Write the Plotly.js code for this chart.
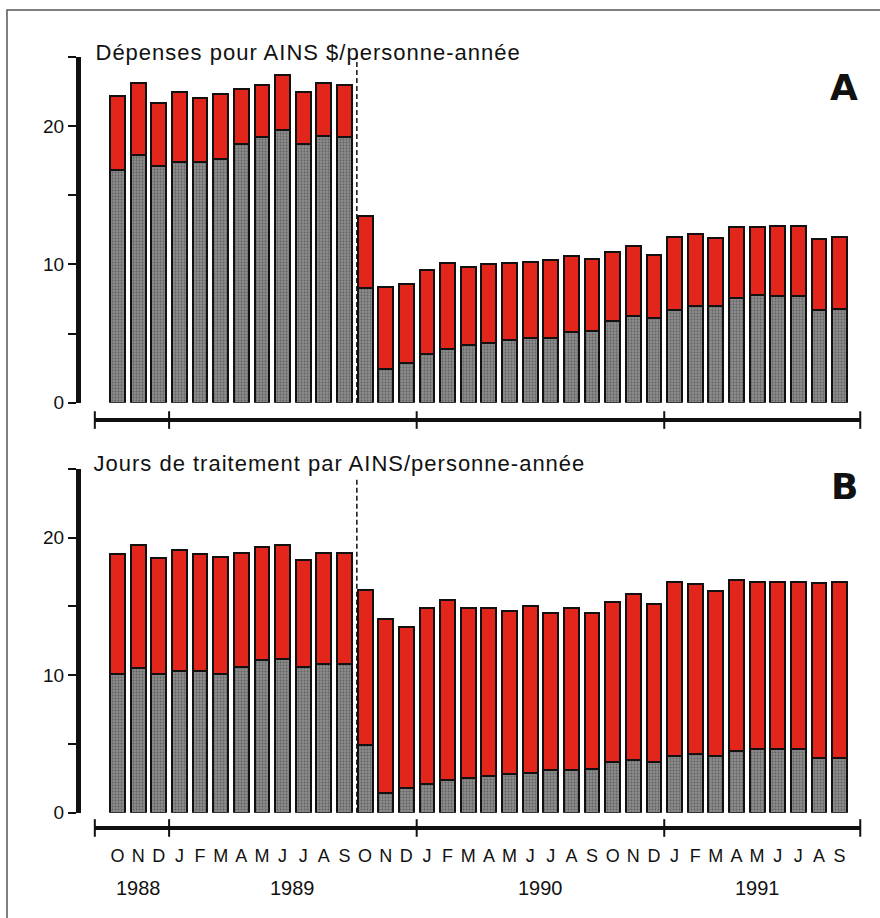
<!DOCTYPE html>
<html><head><meta charset="utf-8">
<script src="https://cdn.plot.ly/plotly-3.0.1.min.js"></script>
<style>
html,body{margin:0;padding:0;background:#fff}
#chart{width:880px;height:918px}
#chart g.annotation[data-index="0"] text, #chart g.annotation[data-index="1"] text{letter-spacing:1px}
</style>
</head><body><div id="chart"></div>
<script>
// Months Oct 1988 .. Sep 1991
const months = ['O','N','D','J','F','M','A','M','J','J','A','S',
                'O','N','D','J','F','M','A','M','J','J','A','S',
                'O','N','D','J','F','M','A','M','J','J','A','S'];
const years = ['1988','1989','1990','1991'];
const monthsPerYear = [3, 12, 12, 9];

// Panel A: Dépenses pour AINS $/personne-année (gray lower segment, red upper segment)
const costGray = [16.8,17.9,17.1,17.4,17.4,17.6,18.7,19.2,19.7,18.7,19.3,19.2,
                  8.3,2.4,2.9,3.5,3.9,4.2,4.3,4.5,4.7,4.7,5.1,5.2,
                  5.9,6.3,6.1,6.7,7.0,7.0,7.6,7.8,7.7,7.7,6.7,6.8];
const costRed  = [5.4,5.2,4.6,5.1,4.6,4.7,4.0,3.8,4.0,3.8,3.8,3.8,
                  5.2,6.0,5.7,6.1,6.2,5.6,5.7,5.6,5.5,5.6,5.5,5.2,
                  5.0,5.0,4.6,5.3,5.2,4.9,5.1,4.9,5.1,5.1,5.1,5.2];

// Panel B: Jours de traitement par AINS/personne-année
const daysGray = [10.1,10.5,10.1,10.3,10.3,10.1,10.6,11.1,11.2,10.6,10.8,10.8,
                  4.9,1.4,1.8,2.1,2.4,2.5,2.7,2.8,2.9,3.1,3.1,3.2,
                  3.7,3.8,3.7,4.1,4.3,4.1,4.5,4.6,4.6,4.6,4.0,4.0];
const daysRed  = [8.7,9.0,8.4,8.8,8.5,8.5,8.3,8.2,8.3,7.8,8.1,8.1,
                  11.3,12.7,11.7,12.8,13.1,12.4,12.2,11.9,12.1,11.4,11.8,11.3,
                  11.6,12.1,11.5,12.7,12.3,12.0,12.4,12.2,12.2,12.2,12.7,12.8];

const titleA = 'Dépenses pour AINS $/personne-année';
const titleB = 'Jours de traitement par AINS/personne-année';

const idx = months.map((m, i) => i);

const GRAY = '#7e7e7e', RED = '#e3261b', INK = '#111111';
const FONT = 'Liberation Sans, Arial, Helvetica, sans-serif';

function bars(y, xa, ya, color, textured) {
  const t = {
    type: 'bar', x: idx, y: y, xaxis: xa, yaxis: ya,
    marker: {color: color, line: {color: INK, width: 2}},
    hoverinfo: 'skip'
  };
  if (textured) {
    t.marker.pattern = {shape: '.', fgcolor: '#606060', bgcolor: '#8c8c8c', size: 3, solidity: 0.3};
  }
  return t;
}

const data = [
  bars(costGray, 'x', 'y', GRAY, true),
  bars(costRed, 'x', 'y', RED, false),
  bars(daysGray, 'x2', 'y2', GRAY, true),
  bars(daysRed, 'x2', 'y2', RED, false)
];

// layout geometry (paper: x 81..865, y 40..878)
const xRange = [-1.77, 36.23];
const domA = [0.5672, 0.9798], domB = [0.0779, 0.4881];
const axisStart = -1.1, axisEnd = 36.0;
const interventionX = 11.6;

function yAxis(dom, anchor) {
  return {domain: dom, range: [0, 25], anchor: anchor, showline: true, linewidth: 5, linecolor: INK,
    ticks: 'outside', ticklen: 8, tickwidth: 2, tickcolor: INK,
    tickvals: [0, 5, 10, 15, 20, 25], ticktext: ['0', '', '10', '', '20', ''],
    tickfont: {size: 19, color: INK, family: FONT},
    showgrid: false, zeroline: false, fixedrange: true};
}
function yInside(over, anchor) {
  return {overlaying: over, anchor: anchor, range: [0, 25], showline: false, ticks: 'inside', ticklen: 4,
    tickwidth: 2, tickcolor: INK, tickvals: [0, 5, 10, 15, 20, 25], showticklabels: false,
    showgrid: false, zeroline: false, fixedrange: true};
}

// year boundaries on the time axes
const starts = [];
let acc = 0;
monthsPerYear.forEach(n => { starts.push(acc); acc += n; });
const boundaries = [axisStart].concat(starts.slice(1).map(s => s - 0.5)).concat([axisEnd]);
const yearCenters = starts.map((s, k) => s + (monthsPerYear[k] - 1) / 2);

const shapes = [];
function timeAxis(xref, yPaper) {
  shapes.push({type: 'line', xref: xref, yref: 'paper', x0: axisStart, x1: axisEnd, y0: yPaper, y1: yPaper,
    line: {color: INK, width: 4}});
  boundaries.forEach(b => shapes.push({type: 'line', xref: xref, yref: 'paper', x0: b, x1: b,
    y0: yPaper - 0.0105, y1: yPaper + 0.0105, line: {color: INK, width: 2}}));
}
timeAxis('x', 0.5465);
timeAxis('x2', 0.0597);
shapes.push({type: 'line', xref: 'x', yref: 'paper', x0: interventionX, x1: interventionX, y0: 0.5668, y1: 0.9845,
  line: {color: INK, width: 1.5, dash: '5px,3px'}});
shapes.push({type: 'line', xref: 'x2', yref: 'paper', x0: interventionX, x1: interventionX, y0: 0.0779, y1: 0.4785,
  line: {color: INK, width: 1.5, dash: '5px,3px'}});
// frame
shapes.push({type: 'rect', xref: 'paper', yref: 'paper', x0: -0.0944, x1: 1.023, y0: -0.06, y1: 1.0358,
  line: {color: '#555', width: 1.5}});

const annotations = [
  {text: titleA, xref: 'paper', yref: 'paper', x: 0.0383, y: 0.9845, xanchor: 'left', yanchor: 'middle',
    showarrow: false, font: {size: 22, color: INK, family: FONT}},
  {text: titleB, xref: 'paper', yref: 'paper', x: 0.0408, y: 0.4952, xanchor: 'left', yanchor: 'middle',
    showarrow: false, font: {size: 22, color: INK, family: FONT}},
  {text: 'A', xref: 'paper', yref: 'paper', x: 0.9726, y: 0.9439, xanchor: 'center', yanchor: 'middle',
    showarrow: false, font: {size: 36, color: INK, family: 'DejaVu Sans, sans-serif', weight: 'bold'}},
  {text: 'B', xref: 'paper', yref: 'paper', x: 0.9738, y: 0.4666, xanchor: 'center', yanchor: 'middle',
    showarrow: false, font: {size: 36, color: INK, family: 'DejaVu Sans, sans-serif', weight: 'bold'}}
];
years.forEach((yr, k) => annotations.push({text: yr, xref: 'x2', yref: 'paper', x: yearCenters[k], y: -0.0125,
  xanchor: 'center', yanchor: 'middle', showarrow: false, font: {size: 20, color: INK, family: FONT}}));

const layout = {
  width: 880, height: 918,
  margin: {l: 81, r: 15, t: 40, b: 40},
  paper_bgcolor: '#ffffff', plot_bgcolor: 'rgba(0,0,0,0)',
  barmode: 'stack', bargap: 0.28, showlegend: false,
  font: {family: FONT, color: INK, size: 18},
  xaxis: {domain: [0, 1], range: xRange, anchor: 'y', showline: false, showgrid: false, zeroline: false,
    ticks: '', showticklabels: false, fixedrange: true},
  xaxis2: {domain: [0, 1], range: xRange, anchor: 'y2', showline: false, showgrid: false, zeroline: false,
    ticks: '', tickvals: idx, ticktext: months, tickangle: 0, ticklabelstandoff: 30,
    tickfont: {size: 18, color: INK, family: FONT}, fixedrange: true},
  yaxis: yAxis(domA, 'x'),
  yaxis2: yAxis(domB, 'x2'),
  yaxis3: yInside('y', 'x'),
  yaxis4: yInside('y2', 'x2'),
  shapes: shapes,
  annotations: annotations
};

Plotly.newPlot('chart', data, layout, {displayModeBar: false, staticPlot: true});
</script>
</body></html>
